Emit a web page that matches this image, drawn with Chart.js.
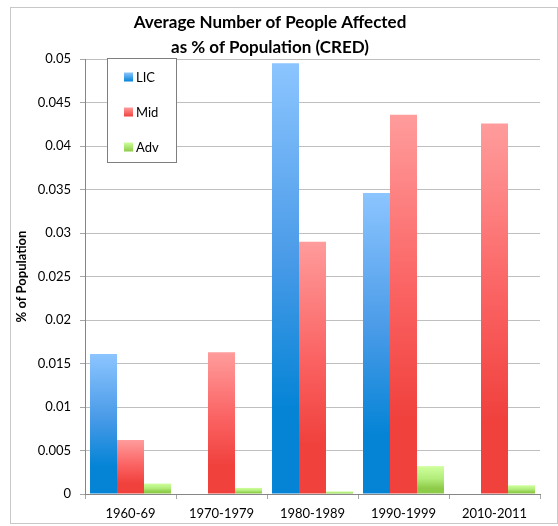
<!DOCTYPE html>
<html>
<head>
<meta charset="utf-8">
<script src="https://cdn.jsdelivr.net/npm/chart.js@4"></script>
<style>
  html, body { margin: 0; padding: 0; background: #fff; }
  #wrap { width: 558px; height: 526px; }
</style>
</head>
<body>
<div id="wrap"><canvas id="c" width="558" height="526"></canvas></div>
<script>
// Decades on the category axis
const categories = ['1960-69', '1970-1979', '1980-1989', '1990-1999', '2010-2011'];

// Average number of people affected, as a share of population
const licValues = [0.0161, null, 0.0495, 0.0346, null];
const midValues = [0.0062, 0.0163, 0.0290, 0.0436, 0.0426];
const advValues = [0.0012, 0.0007, 0.0003, 0.0032, 0.0010];

const seriesNames = ['LIC', 'Mid', 'Adv'];
const yTickLabels = ['0', '0.005', '0.01', '0.015', '0.02', '0.025', '0.03', '0.035', '0.04', '0.045', '0.05'];

const titleLines = ['Average Number of People Affected', 'as % of Population (CRED)'];
const yAxisTitle = '% of Population';

const FONT = 'Lato, "Liberation Sans", sans-serif';

// light (top) -> dark (base) colours for each series
const palette = {
  LIC: ['#8CC5FF', '#4A9BE8', '#0584D6'],
  Mid: ['#FF9C9C', '#FB6464', '#F0413D'],
  Adv: ['#CEFF9C', '#B2EC7A', '#8DCB48']
};

function gradientFill(name) {
  const [c0, c1, c2] = palette[name];
  return function (ctx) {
    const chart = ctx.chart;
    if (!chart.chartArea || ctx.type !== 'data' || ctx.raw == null) return c2;
    const y = chart.scales.y;
    const top = y.getPixelForValue(ctx.raw);
    const base = y.getPixelForValue(0);
    if (!(base > top)) return c2;
    const g = chart.ctx.createLinearGradient(0, top, 0, base);
    g.addColorStop(0, c0);
    g.addColorStop(0.45, c1);
    g.addColorStop(0.8, c2);
    g.addColorStop(1, c2);
    return g;
  };
}

// Outer frame, two-line heading and the boxed legend
const decorations = {
  id: 'decorations',
  beforeDraw(chart) {
    const c = chart.ctx;
    c.save();
    c.fillStyle = '#fff';
    c.fillRect(0, 0, chart.width, chart.height);
    c.strokeStyle = '#C8C8C8';
    c.lineWidth = 1;
    c.strokeRect(10.5, 7.5, 547, 516);
    c.restore();
  },
  afterDraw(chart) {
    const c = chart.ctx;
    c.save();
    // heading
    c.fillStyle = '#000';
    c.font = 'bold 17px ' + FONT;
    c.textAlign = 'center';
    c.textBaseline = 'alphabetic';
    c.fillText(titleLines[0], 270, 28);
    c.fillText(titleLines[1], 270, 53);

    // legend box
    c.fillStyle = '#fff';
    c.fillRect(107, 58, 70, 105);
    c.strokeStyle = '#7F7F7F';
    c.lineWidth = 1;
    c.strokeRect(107.5, 58.5, 69, 104);
    c.font = '13px ' + FONT;
    c.textAlign = 'left';
    c.textBaseline = 'middle';
    seriesNames.forEach((name, i) => {
      const cy = 77 + i * 35;
      const [c0, c1, c2] = palette[name];
      const g = c.createLinearGradient(0, cy - 4.5, 0, cy + 4.5);
      g.addColorStop(0, c0);
      g.addColorStop(1, c2);
      c.fillStyle = g;
      c.fillRect(124, cy - 4.5, 9, 9);
      c.fillStyle = '#000';
      c.fillText(name, 136, cy + 0.5);
    });
    c.restore();
  }
};

const data = {
  labels: categories,
  datasets: [
    { label: seriesNames[0], data: licValues, backgroundColor: gradientFill('LIC') },
    { label: seriesNames[1], data: midValues, backgroundColor: gradientFill('Mid') },
    { label: seriesNames[2], data: advValues, backgroundColor: gradientFill('Adv') }
  ]
};

new Chart(document.getElementById('c'), {
  type: 'bar',
  data,
  options: {
    responsive: false,
    animation: false,
    devicePixelRatio: 1,
    layout: { padding: { left: 10, right: 18, top: 59, bottom: 0 } },
    datasets: { bar: { categoryPercentage: 0.89, barPercentage: 1, borderWidth: 0 } },
    plugins: {
      legend: { display: false },
      title: { display: false },
      tooltip: { enabled: false }
    },
    scales: {
      x: {
        grid: {
          display: true,
          drawOnChartArea: false,
          drawTicks: true,
          tickLength: 5,
          tickColor: '#A6A6A6',
          offset: true
        },
        border: { display: true, color: '#868686', width: 1 },
        ticks: { color: '#000', font: { family: FONT, size: 13 }, padding: 7, maxRotation: 0, autoSkip: false },
        afterFit(scale) { scale.height = 32; }
      },
      y: {
        min: 0,
        max: 0.05,
        ticks: {
          stepSize: 0.005,
          color: '#000',
          font: { family: FONT, size: 13 },
          padding: 9,
          callback: (v, i) => yTickLabels[i]
        },
        grid: { color: '#BFBFBF', lineWidth: 1, tickLength: 5, tickColor: '#A6A6A6' },
        border: { display: true, color: '#868686', width: 1 },
        title: {
          display: true,
          text: yAxisTitle,
          color: '#000',
          font: { family: FONT, size: 13, weight: 'bold' },
          padding: { top: 4, bottom: 0 }
        },
        afterFit(scale) { scale.width = 75; }
      }
    }
  },
  plugins: [decorations]
});
</script>
</body>
</html>
